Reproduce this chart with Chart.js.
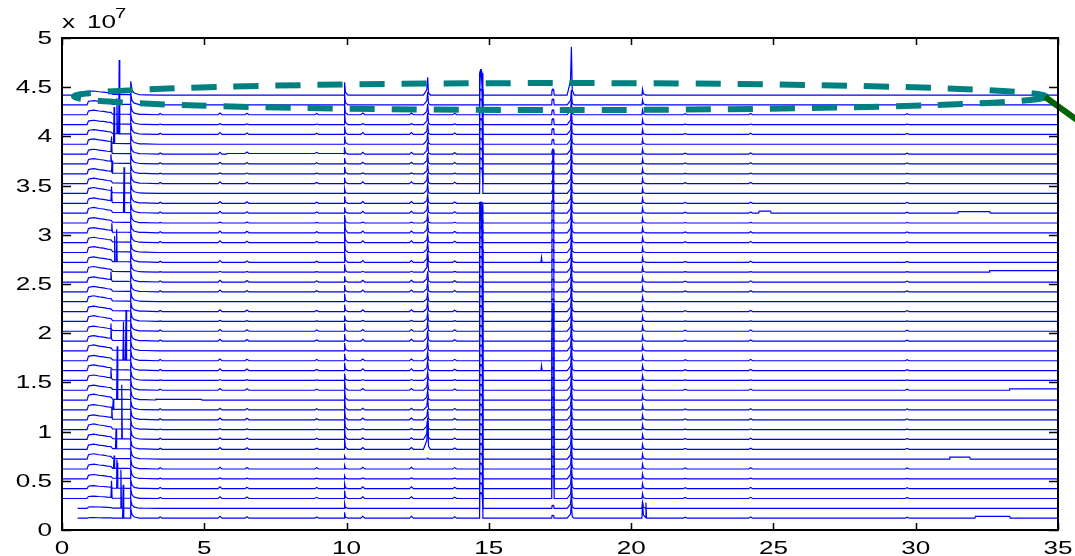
<!DOCTYPE html>
<html>
<head>
<meta charset="utf-8">
<script src="https://cdn.jsdelivr.net/npm/chart.js@4.4.1/dist/chart.umd.min.js"></script>
<style>
  html, body { margin: 0; padding: 0; background: #fff; }
  #wrap { width: 1075px; height: 556px; position: relative; }
</style>
</head>
<body>
<div id="wrap"><canvas id="chart"></canvas></div>
<script>
/* stacked chromatograms, MATLAB look — intensity in 1e6 counts, labelled x 10^7 */

const X_TICKS  = [0, 5, 10, 15, 20, 25, 30, 35];
const Y_TICKS  = [0, 5, 10, 15, 20, 25, 30, 35, 40, 45, 50];
const Y_LABELS = ['0', '0.5', '1', '1.5', '2', '2.5', '3', '3.5', '4', '4.5', '5'];

// baseline of each run (x1e6), bottom -> top
const OFFSETS = [
  1.2, 2.2, 3.2, 4.2, 5.2, 6.2, 7.2, 8.2, 9.2, 10.2, 11.2,
  12.2, 13.2, 14.2, 15.2, 16.2, 17.2, 18.2, 19.2, 20.2, 21.2, 22.2,
  23.2, 24.2, 25.2, 26.2, 27.2, 28.2, 29.2, 30.2, 31.2, 32.2, 33.2,
  34.2, 35.2, 36.2, 37.2, 38.2, 39.2, 40.2, 41.2, 42.2, 43.2, 44.2,
];
// first recorded time of each run (min)
const RUN_START = [
  0.55, 0.55, 0.03, 0.03, 0.03, 0.03, 0.03, 0.03, 0.03, 0.03, 0.03,
  0.03, 0.03, 0.03, 0.03, 0.03, 0.03, 0.03, 0.03, 0.03, 0.03, 0.03,
  0.03, 0.03, 0.03, 0.03, 0.03, 0.03, 0.03, 0.03, 0.03, 0.03, 0.03,
  0.03, 0.03, 0.03, 0.03, 0.03, 0.03, 0.03, 0.03, 0.03, 0.03, 0.03,
];
const RUN_END = 35;

// solvent hump at the front of every run (min, x1e6) and its size per run
const HUMP_T = [0.88, 0.93, 1.0, 1.12, 1.3, 1.45, 1.6, 1.72, 1.78, 2.3, 2.9, 3.4];
const HUMP_V = [0, 0.45, 0.5, 0.55, 0.45, 0.4, 0.32, 0.28, 0.08, 0.06, 0.04, 0];
const HUMP_K = [
  0.1, 0.3, 0.45, 0.55, 0.8, 0.9, 1.0, 0.95, 1.0, 1.05, 0.9,
  1.0, 1.1, 0.95, 1.0, 1.05, 1.0, 1.1, 1.0, 0.95, 1.05, 1.0,
  1.1, 1.0, 0.95, 1.05, 1.0, 1.1, 1.0, 0.95, 1.0, 1.05, 1.0,
  1.1, 1.0, 0.95, 1.0, 0.9, 1.0, 0.9, 0.8, 0.85, 0.8, 0.75,
];

// main peaks: retention time (min) and height in each run (x1e6)
const PEAK_RT = [2.42, 9.93, 12.85, 14.72, 17.25, 17.9, 20.4];
const H_2_42 = [
  1.0, 0.9, 1.0, 0.9, 1.0, 0.95, 1.0, 0.9, 1.0, 0.95, 1.0,
  0.9, 1.0, 0.95, 1.0, 0.9, 1.0, 0.95, 1.0, 0.9, 1.0, 0.95,
  1.0, 0.9, 1.0, 0.95, 1.0, 0.9, 1.0, 0.95, 1.0, 0.9, 1.0,
  0.95, 1.0, 0.9, 1.0, 0.95, 1.0, 1.1, 1.0, 1.0, 1.1, 1.35,
];
const H_9_93 = [
  0.6, 0.5, 0.8, 0.5, 0.3, 0.35, 0.3, 1.1, 1.1, 1.2, 1.1,
  1.2, 1.1, 1.0, 0.7, 0.8, 0.7, 0.8, 0.7, 0.8, 0.6, 0.7,
  0.8, 0.7, 0.6, 0.8, 1.1, 1.2, 1.3, 1.5, 0.8, 0.6, 0.7,
  0.5, 0.6, 0.7, 0.6, 0.7, 0.8, 0.8, 1.1, 1.1, 1.1, 1.3,
];
const H_12_85 = [
  0, 0, 0, 0, 0, 0, 0.1, 3.0, 2.0, 1.2, 1.1,
  1.2, 1.0, 1.0, 0.9, 1.0, 0.9, 1.0, 1.1, 1.0, 0.9, 1.0,
  0.9, 1.0, 1.1, 1.6, 1.2, 1.0, 0.9, 1.0, 0.9, 1.0, 0.9,
  1.0, 1.1, 1.0, 1.1, 1.2, 1.2, 1.1, 1.2, 1.1, 1.3, 1.8,
];
const H_14_72 = [
  32.1, 1.6, 1.6, 1.6, 1.6, 1.6, 1.6, 1.6, 1.6, 1.6, 1.6,
  1.6, 1.6, 1.6, 1.6, 1.6, 1.6, 1.6, 1.6, 1.6, 1.6, 1.6,
  1.6, 1.6, 1.6, 1.6, 1.6, 1.6, 1.6, 1.6, 1.6, 1.0, 0.1,
  12.5, 1.6, 1.6, 1.6, 1.6, 1.6, 1.6, 1.6, 1.6, 1.6, 2.6,
];
const H_17_25 = [
  0.3, 0.3, 35.5, 18.8, 0.3, 0.3, 0.3, 0.3, 0.3, 0.3, 0.3,
  0.3, 0.3, 0.3, 0.3, 0.3, 0.3, 0.3, 0.3, 0.3, 0.3, 0.3,
  0.3, 0.3, 0.3, 0.3, 0.3, 0.3, 0.3, 0.3, 0.3, 0.3, 0.3,
  0.3, 0.3, 0.3, 0.3, 0.4, 0.5, 0.6, 0.6, 0.5, 0.6, 0.6,
];
const H_17_9 = [
  1.4, 1.5, 1.5, 1.5, 1.5, 1.5, 1.5, 1.5, 1.5, 1.5, 1.5,
  1.5, 1.5, 1.5, 1.5, 1.5, 1.5, 1.5, 1.5, 1.5, 1.5, 1.5,
  1.5, 1.5, 1.5, 1.5, 1.5, 1.5, 1.5, 1.5, 1.5, 1.5, 1.5,
  1.5, 1.5, 1.5, 1.5, 1.5, 1.5, 1.5, 1.5, 1.5, 1.5, 4.9,
];
const H_20_4 = [
  1.7, 0.6, 0.5, 0.5, 0.5, 0.5, 0.5, 0.5, 0.5, 0.5, 0.5,
  0.5, 0.5, 0.5, 0.5, 0.5, 0.5, 0.5, 0.5, 0.5, 0.5, 0.5,
  0.5, 0.5, 0.5, 0.5, 0.5, 0.5, 0.5, 0.5, 0.5, 0.5, 0.5,
  0.5, 0.5, 0.5, 0.5, 0.5, 0.5, 0.5, 0.5, 0.5, 0.5, 0.6,
];
const PEAK_H = [H_2_42, H_9_93, H_12_85, H_14_72, H_17_25, H_17_9, H_20_4];

// single spikes seen in only one run: [run, time, height]
const SPIKES = [
  [0, 2.15, 3.4], [1, 2.07, 3.9], [2, 1.74, 1.7], [3, 1.94, 2.6], [4, 1.93, 1.9],
  [5, 1.83, 1.3], [7, 1.9, 2.0], [8, 2.1, 5.5], [10, 1.75, 1.2], [11, 1.8, 1.0],
  [12, 1.94, 5.4], [14, 1.72, 0.9], [16, 2.16, 3.9], [16, 2.25, 5.1], [18, 1.72, 1.5],
  [24, 1.72, 0.8], [26, 1.92, 3.3], [26, 1.85, 2.6], [29, 1.75, 0.8], [31, 2.18, 4.6],
  [32, 1.74, 1.5], [35, 1.76, 1.2], [36, 1.72, 0.7], [37, 1.74, 1.6], [38, 1.83, 3.7],
  [39, 2.01, 7.5], [39, 1.93, 3.6],
  [15, 16.85, 0.5], [26, 16.85, 0.5], [0, 20.52, 1.6],
];

// small recurring bumps and which runs show them
const MINOR_T = [3.45, 5.55, 6.5, 8.95, 10.57, 12.28, 13.8, 21.9, 24.2, 29.7];
const MINOR_H = [0.12, 0.18, 0.15, 0.12, 0.18, 0.18, 0.14, 0.1, 0.12, 0.1];
const MINOR_K = [
  1, 0, 1, 1, 0.5, 1, 0, 1, 1, 0.5, 1,
  1, 0, 1, 0.5, 1, 1, 0, 1, 1, 0.5, 1,
  0, 1, 1, 0.5, 1, 0, 1, 1, 0.5, 1, 1,
  0, 1, 0.5, 1, 1, 0, 1, 0.5, 1, 0, 0,
];

// short raised noisy stretches: [run, from, to, height]
const PLATEAUS = [
  [0, 32.1, 33.3, 0.18], [6, 31.2, 31.9, 0.2], [12, 3.3, 4.9, 0.08], [13, 33.3, 35, 0.15],
  [25, 32.6, 35, 0.15], [31, 31.5, 32.6, 0.15], [31, 24.5, 24.9, 0.2], [37, 5.8, 9.9, 0.06],
];

// highlight drawn over the top runs
const ELLIPSE_C = [17.5, 44.05];   // centre (min, x1e6)
const ELLIPSE_R = [17.08, 1.37];   // half axes
const ARROW_FROM = [34.55, 44.0];
const ARROW_TO   = [35.8, 41.4];

/* peak outlines: time offsets (min) and fraction of the height */
const SHAPE_FRONT_TAIL = { dt: [-0.03, -0.01, 0, 0.04, 0.12, 0.3], rel: [0, 0.6, 1, 0.35, 0.12, 0] };
const SHAPE_TAIL  = { dt: [-0.02, 0, 0.03, 0.12], rel: [0, 1, 0.2, 0] };
const SHAPE_SLOPE = { dt: [-0.15, -0.03, 0, 0.03, 0.1], rel: [0, 0.3, 1, 0.1, 0] };
const SHAPE_WIDE  = { dt: [-0.06, -0.045, -0.01, 0.01, 0.045, 0.07], rel: [0, 0.85, 1, 1, 0.85, 0] };
const SHAPE_NARROW = { dt: [-0.04, -0.03, -0.005, 0.005, 0.03, 0.045], rel: [0, 0.85, 1, 1, 0.85, 0] };
const SHAPE_SPIKE = { dt: [-0.02, 0, 0.02], rel: [0, 1, 0] };
const SHAPE_BUMP  = { dt: [-0.07, 0, 0.07], rel: [0, 1, 0] };
const PEAK_SHAPES = [SHAPE_FRONT_TAIL, SHAPE_TAIL, SHAPE_SLOPE, SHAPE_WIDE, SHAPE_NARROW, SHAPE_SLOPE, SHAPE_TAIL];

function placed(shape, t, h) {
  return shape.dt.map((d, k) => [t + d, shape.rel[k] * h]);
}

function interp(knots, t) {
  if (t <= knots[0][0] || t >= knots[knots.length - 1][0]) return 0;
  for (let k = 1; k < knots.length; k++) {
    if (t <= knots[k][0]) {
      const [t0, v0] = knots[k - 1], [t1, v1] = knots[k];
      return v0 + (v1 - v0) * (t - t0) / (t1 - t0);
    }
  }
  return 0;
}

function runPoints(i) {
  const parts = [];
  parts.push(HUMP_T.map((t, k) => [t, HUMP_V[k] * HUMP_K[i]]));
  PEAK_RT.forEach((rt, p) => {
    if (PEAK_H[p][i] > 0) parts.push(placed(PEAK_SHAPES[p], rt, PEAK_H[p][i]));
  });
  SPIKES.filter(s => s[0] === i).forEach(s => parts.push(placed(SHAPE_SPIKE, s[1], s[2])));
  if (MINOR_K[i] > 0) {
    MINOR_T.forEach((t, k) => parts.push(placed(SHAPE_BUMP, t, MINOR_H[k] * MINOR_K[i])));
  }
  PLATEAUS.filter(p => p[0] === i).forEach(p => {
    parts.push([[p[1] - 0.02, 0], [p[1], p[3]], [p[2], p[3]], [p[2] + 0.02, 0]]);
  });

  const start = RUN_START[i];
  let times = [start, RUN_END];
  parts.forEach(pt => pt.forEach(k => { if (k[0] > start && k[0] < RUN_END) times.push(k[0]); }));
  times = [...new Set(times.map(t => +t.toFixed(4)))].sort((a, b) => a - b);

  return times.map(t => ({
    x: t,
    y: OFFSETS[i] + parts.reduce((s, pt) => s + interp(pt, t), 0),
  }));
}

const datasets = OFFSETS.map((_, i) => ({
  data: runPoints(i),
  borderColor: '#0000ff',
  borderWidth: 1.2,
  pointRadius: 0,
  tension: 0,
  fill: false,
}));

/* ── MATLAB style frame, ticks and labels ── */
const FONT = '"Liberation Sans", Arial, sans-serif';
const TEXT_SX = 1.45;

function stretchedText(ctx, str, px, py, align) {
  ctx.save();
  ctx.translate(px, py);
  ctx.scale(TEXT_SX, 1);
  ctx.textAlign = align;
  ctx.fillText(str, 0, 0);
  ctx.restore();
}

const matlabAxes = {
  id: 'matlabAxes',
  afterDatasetsDraw(chart) {
    const { ctx, scales: { x, y } } = chart;
    const cx = x.getPixelForValue(ELLIPSE_C[0]);
    const cy = y.getPixelForValue(ELLIPSE_C[1]);
    const rx = x.getPixelForValue(ELLIPSE_C[0] + ELLIPSE_R[0]) - cx;
    const ry = cy - y.getPixelForValue(ELLIPSE_C[1] + ELLIPSE_R[1]);
    ctx.save();
    ctx.strokeStyle = '#008080';
    ctx.lineWidth = 6;
    ctx.setLineDash([25, 17]);
    ctx.beginPath();
    ctx.ellipse(cx, cy, rx, ry, 0, 0, Math.PI * 2);
    ctx.stroke();
    ctx.setLineDash([]);
    ctx.strokeStyle = '#006400';
    ctx.beginPath();
    ctx.moveTo(x.getPixelForValue(ARROW_FROM[0]), y.getPixelForValue(ARROW_FROM[1]));
    ctx.lineTo(x.getPixelForValue(ARROW_TO[0]), y.getPixelForValue(ARROW_TO[1]));
    ctx.stroke();
    ctx.restore();
  },
  afterDraw(chart) {
    const { ctx, chartArea: a, scales: { x, y } } = chart;
    ctx.save();
    ctx.strokeStyle = '#000';
    ctx.lineWidth = 2;
    ctx.strokeRect(a.left, a.top, a.right - a.left, a.bottom - a.top);

    ctx.lineWidth = 1.5;
    ctx.beginPath();
    X_TICKS.forEach(v => {
      const px = Math.round(x.getPixelForValue(v)) + 0.5;
      ctx.moveTo(px, a.bottom); ctx.lineTo(px, a.bottom - 7);
      ctx.moveTo(px, a.top);    ctx.lineTo(px, a.top + 7);
    });
    Y_TICKS.forEach(v => {
      const py = Math.round(y.getPixelForValue(v)) + 0.5;
      ctx.moveTo(a.left, py);  ctx.lineTo(a.left + 9, py);
      ctx.moveTo(a.right, py); ctx.lineTo(a.right - 9, py);
    });
    ctx.stroke();

    ctx.fillStyle = '#000';
    ctx.font = `18px ${FONT}`;
    ctx.textBaseline = 'middle';
    Y_TICKS.forEach((v, k) => stretchedText(ctx, Y_LABELS[k], a.left - 10, y.getPixelForValue(v) + 1, 'right'));
    ctx.textBaseline = 'alphabetic';
    X_TICKS.forEach(v => stretchedText(ctx, String(v), x.getPixelForValue(v), a.bottom + 24, 'center'));

    // exponent label
    stretchedText(ctx, 'x', a.left, 28, 'left');
    stretchedText(ctx, '10', a.left + 25, 28, 'left');
    ctx.font = `14px ${FONT}`;
    stretchedText(ctx, '7', a.left + 53, 18, 'left');
    ctx.restore();
  },
};

new Chart(document.getElementById('chart'), {
  type: 'line',
  data: { datasets },
  options: {
    responsive: true,
    maintainAspectRatio: false,
    animation: false,
    parsing: false,
    normalized: true,
    layout: { padding: { left: 62, right: 17, top: 38, bottom: 26 } },
    plugins: { legend: { display: false }, tooltip: { enabled: false } },
    scales: {
      x: { type: 'linear', min: 0, max: 35, display: false },
      y: { type: 'linear', min: 0, max: 50, display: false },
    },
  },
  plugins: [matlabAxes],
});
</script>
</body>
</html>
